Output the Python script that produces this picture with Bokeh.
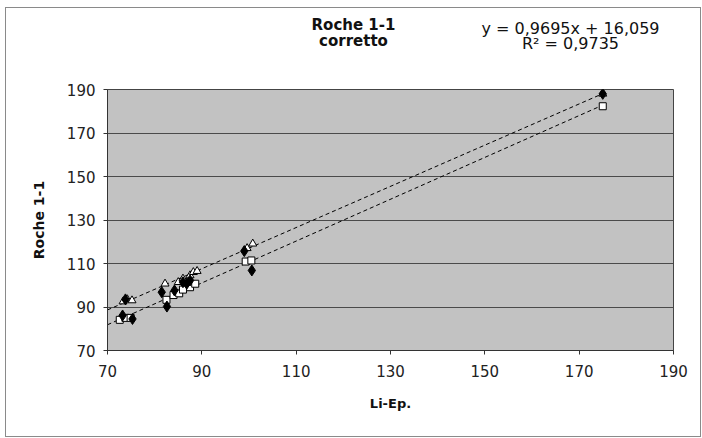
import numpy as np
from bokeh.plotting import figure
from bokeh.layouts import column
from bokeh.models import Label, FixedTicker, Range1d
from bokeh.embed import file_html
from bokeh.resources import INLINE

# ---- data ----
x_ticks = [70, 90, 110, 130, 150, 170, 190]
y_ticks = [70, 90, 110, 130, 150, 170, 190]

sq_x = [72.6, 73.8, 74.9, 82.5, 84.0, 85.2, 86.0, 87.5, 88.6, 99.3, 100.5, 175.0]
sq_y = [84.1, 85.0, 85.0, 93.3, 95.5, 96.3, 98.0, 99.1, 100.7, 110.9, 111.4, 182.3]

tri_x = [73.3, 74.2, 75.2, 82.2, 85.0, 86.0, 87.5, 88.2, 89.0, 99.6, 100.8, 175.0]
tri_y = [92.5, 93.5, 93.0, 100.7, 101.4, 103.0, 104.5, 106.0, 106.5, 117.0, 119.1, 188.0]

dia_x = [73.8, 73.2, 75.3, 81.5, 82.6, 84.2, 86.0, 86.8, 87.5, 99.0, 100.6, 175.0]
dia_y = [93.5, 86.1, 84.5, 96.8, 90.2, 97.6, 101.4, 100.7, 102.2, 115.7, 106.8, 188.0]

title_lines = ["Roche 1-1", "corretto"]
eq_lines = ["y = 0,9695x + 16,059", "R² = 0,9735"]
x_title = "Li-Ep."
y_title = "Roche 1-1"

FONT = "DejaVu Sans"
W = 694
HEAD_H = 71

# ---- header strip holding the title and the trend-line equation ----
# (the column aligns its frame with the main chart's frame, so x is measured from there)
head = figure(width=W, height=HEAD_H, output_backend="svg", toolbar_location=None,
              x_range=Range1d(0, W), y_range=Range1d(0, HEAD_H),
              x_axis_type=None, y_axis_type=None, min_border=0)
head.outline_line_color = None
head.grid.visible = False
head.background_fill_color = "white"
head.border_fill_color = "white"

for i, t in enumerate(title_lines):
    head.add_layout(Label(x=246, y=55 - i * 16, x_units="screen", y_units="screen", text=t,
                          text_align="center", text_baseline="middle", text_font=FONT,
                          text_font_size="15px", text_font_style="bold", text_color="#111111"))
for i, t in enumerate(eq_lines):
    head.add_layout(Label(x=463, y=51 - i * 15, x_units="screen", y_units="screen", text=t,
                          text_align="center", text_baseline="middle", text_font=FONT,
                          text_font_size="16px", text_color="#111111"))

# ---- main chart ----
p = figure(width=W, height=357, output_backend="svg", toolbar_location=None,
           x_range=Range1d(70, 190), y_range=Range1d(70, 190),
           min_border_left=101, min_border_right=27, min_border_top=10, min_border_bottom=86)

p.background_fill_color = "#c2c2c2"
p.border_fill_color = "white"
p.outline_line_color = "#444444"
p.outline_line_width = 1

p.xgrid.visible = False
p.ygrid.grid_line_color = "#4a4a4a"
p.ygrid.grid_line_width = 1

for ax in (p.xaxis[0], p.yaxis[0]):
    ax.major_label_text_font = FONT
    ax.major_label_text_font_size = "15px"
    ax.major_label_text_color = "#222222"
    ax.axis_label_text_font = FONT
    ax.axis_label_text_font_style = "bold"
    ax.axis_label_text_color = "#111111"
    ax.minor_tick_line_color = None
    ax.major_tick_out = 4
    ax.major_tick_in = 0
    ax.axis_line_color = "#333333"
    ax.major_tick_line_color = "#333333"

p.xaxis.ticker = FixedTicker(ticks=x_ticks)
p.yaxis.ticker = FixedTicker(ticks=y_ticks)
p.xaxis.axis_label = x_title
p.yaxis.axis_label = y_title
p.xaxis.axis_label_text_font_size = "13px"
p.yaxis.axis_label_text_font_size = "14px"
p.xaxis.major_label_standoff = 10
p.yaxis.major_label_standoff = 8
p.xaxis.axis_label_standoff = 16
p.yaxis.axis_label_standoff = 17

# trend lines (least squares), extended back to the axis start
x_start = p.x_range.start
for xs, ys in ((sq_x, sq_y), (tri_x, tri_y)):
    k, b = np.polyfit(xs, ys, 1)
    lx = np.array([x_start, max(xs)])
    p.line(lx, k * lx + b, line_color="black", line_width=1, line_dash="4 3")

p.scatter(sq_x, sq_y, marker="square", size=7, fill_color="white", line_color="black", line_width=1)
p.scatter(tri_x, tri_y, marker="triangle", size=8, fill_color="white", line_color="black", line_width=1)
p.scatter(dia_x, dia_y, marker="diamond", size=11, fill_color="black", line_color="black")

layout = column(head, p, spacing=0)
layout.styles = {"border": "1px solid #8a8a8a", "margin-left": "5px", "margin-top": "7px"}

open("out.html", "w").write(file_html(layout, INLINE))
